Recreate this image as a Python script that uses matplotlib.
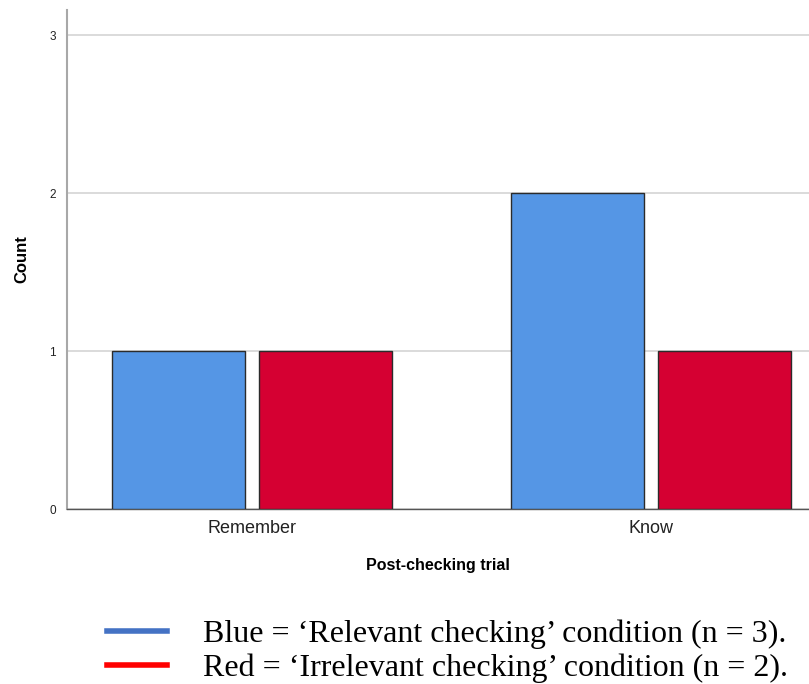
import numpy as np
import matplotlib.pyplot as plt
from matplotlib.lines import Line2D

# Data
categories = ["Remember", "Know"]
relevant_counts = [1, 2]     # blue bars
irrelevant_counts = [1, 1]   # red bars
y_ticks = [0, 1, 2, 3]
legend_labels = ["Blue = \u2018Relevant checking\u2019 condition (n = 3).",
                 "Red = \u2018Irrelevant checking\u2019 condition (n = 2)."]

blue = "#5596e5"
red = "#d50032"

fig = plt.figure(figsize=(8.09, 6.84), dpi=100)
ax = fig.add_axes([0.0828, 0.2558, 0.917, 0.7295])

x = np.arange(len(categories))
width = 0.333
ax.bar(x - 0.184, relevant_counts, width, color=blue, edgecolor="#2b2b2b", linewidth=1.0, zorder=3)
ax.bar(x + 0.185, irrelevant_counts, width, color=red, edgecolor="#2b2b2b", linewidth=1.0, zorder=3)

ax.set_xlim(-0.464, 1.396)
ax.set_ylim(0, 3.16)
ax.set_yticks(y_ticks)
ax.set_yticklabels([str(t) for t in y_ticks], fontsize=8.5, family="Liberation Sans", color="#222222")
ax.set_xticks(x)
ax.set_xticklabels(categories, fontsize=13, family="Liberation Sans", color="#222222")
ax.tick_params(axis="both", length=0)
ax.tick_params(axis="y", pad=8)
ax.tick_params(axis="x", pad=8)

# grid lines
ax.yaxis.grid(True, color="#d4d4d4", linewidth=1.2, zorder=0)
ax.set_axisbelow(True)

for s in ["top", "right"]:
    ax.spines[s].set_visible(False)
ax.spines["left"].set_color("#a8a8a8")
ax.spines["left"].set_linewidth(1.5)
ax.spines["bottom"].set_color("#555555")
ax.spines["bottom"].set_linewidth(1.0)

ax.set_ylabel("Count", fontsize=12, fontweight="bold", family="Liberation Sans", labelpad=14)
ax.set_xlabel("Post-checking trial", fontsize=11.5, fontweight="bold", family="Liberation Sans", labelpad=15)

# caption style legend underneath
handles = [Line2D([0], [0], color="#4472c4", linewidth=4),
           Line2D([0], [0], color="#ff0000", linewidth=4)]
fig.legend(handles, legend_labels, loc="upper left", bbox_to_anchor=(0.132, 0.0946),
           frameon=False, prop={"family": "Liberation Serif", "size": 23},
           handlelength=1.9, handletextpad=1.1, labelspacing=0.15, borderaxespad=0,
           borderpad=0)

fig.savefig("out.png", dpi=100)
